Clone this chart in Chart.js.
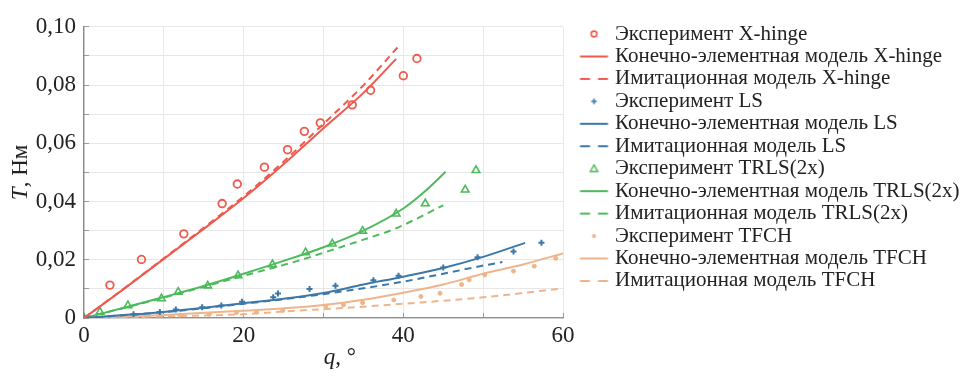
<!DOCTYPE html>
<html><head><meta charset="utf-8">
<style>html,body{margin:0;padding:0;background:#fff;} canvas{display:block;}</style>
<script src="https://cdn.jsdelivr.net/npm/chart.js@4.4.1/dist/chart.umd.min.js"></script>
</head><body>
<canvas id="c" width="965" height="381"></canvas>
<script>
// ---- data (q in degrees, T in N·m) ----
const xhExpQ = [3.25, 7.2, 12.5, 17.3, 19.2, 22.6, 25.5, 27.6, 29.6, 33.6, 35.9, 40.0, 41.7];
const xhExpT = [0.0113, 0.0201, 0.0289, 0.0393, 0.0460, 0.0518, 0.0578, 0.0641, 0.0670, 0.0732, 0.0782, 0.0832, 0.0891];
const xhFemQ = [0, 5, 10, 15, 20, 25, 30, 35, 39.1];
const xhFemT = [0, 0.0100, 0.0203, 0.0306, 0.0412, 0.0528, 0.0652, 0.0773, 0.0890];
const xhSimQ = [0, 5, 10, 15, 20, 25, 30, 35, 39.3];
const xhSimT = [0, 0.0101, 0.0205, 0.0310, 0.0418, 0.0537, 0.0667, 0.0799, 0.0930];

const lsExpQ = [0, 6.2, 9.5, 11.5, 14.8, 17.2, 19.8, 23.7, 24.3, 28.25, 31.5, 36.25, 39.4, 45.0, 49.3, 53.8, 57.3];
const lsExpT = [0, 0.0013, 0.0021, 0.0029, 0.0037, 0.0043, 0.0056, 0.0071, 0.0084, 0.0100, 0.0111, 0.0130, 0.0145, 0.0173, 0.0209, 0.0228, 0.0258];
const lsFemQ = [0, 5, 10, 15, 20, 25, 30, 35, 40, 45, 50, 55.25];
const lsFemT = [0, 0.0010, 0.0021, 0.0035, 0.0051, 0.0066, 0.0086, 0.0115, 0.0142, 0.0172, 0.0210, 0.0258];
const lsSimQ = [0, 10, 20, 27, 35, 40, 45, 50, 52.4];
const lsSimT = [0, 0.0020, 0.0049, 0.0071, 0.0102, 0.0125, 0.0152, 0.0180, 0.0192];

const trExpQ = [0, 2, 5.5, 9.7, 11.8, 15.5, 19.3, 23.6, 27.75, 31.1, 34.9, 39.1, 42.75, 47.75, 49.1];
const trExpT = [0, 0.0021, 0.0043, 0.0067, 0.0089, 0.0111, 0.0146, 0.0184, 0.0225, 0.0255, 0.0299, 0.0358, 0.0393, 0.0440, 0.0507];
const trFemQ = [0, 5, 10, 15, 20, 25, 30, 35, 40, 42.5, 45.3];
const trFemT = [0, 0.0035, 0.0072, 0.0110, 0.0152, 0.0196, 0.0243, 0.0300, 0.0376, 0.0430, 0.0502];
const trSimQ = [0, 10, 20, 27, 31, 35, 39, 45];
const trSimT = [0, 0.0070, 0.0145, 0.0198, 0.0233, 0.0269, 0.0307, 0.0387];

const tfExpQ = [0, 4.7, 7.4, 12, 15.7, 19.1, 21.6, 24.9, 30.3, 32.5, 34.9, 38.8, 42.2, 44.6, 47.3, 48.25, 50.2, 53.8, 56.4, 59.1];
const tfExpT = [0, 0.0005, 0.0008, 0.0010, 0.0013, 0.0019, 0.0021, 0.0026, 0.0041, 0.0045, 0.0052, 0.0062, 0.0074, 0.0085, 0.0115, 0.0131, 0.0148, 0.0161, 0.0178, 0.0205];
const tfFemQ = [0, 10, 20, 27, 30, 35, 40, 45, 50, 55, 60];
const tfFemT = [0, 0.0010, 0.0025, 0.0037, 0.0045, 0.0063, 0.0087, 0.0115, 0.0152, 0.0184, 0.0222];
const tfSimQ = [0, 10, 20, 27, 30, 40, 50, 60];
const tfSimT = [0, 0.0006, 0.0013, 0.0026, 0.0030, 0.0049, 0.0071, 0.0102];

const seriesLabels = [
  'Эксперимент X-hinge', 'Конечно-элементная модель X-hinge', 'Имитационная модель X-hinge',
  'Эксперимент LS', 'Конечно-элементная модель LS', 'Имитационная модель LS',
  'Эксперимент TRLS(2x)', 'Конечно-элементная модель TRLS(2x)', 'Имитационная модель TRLS(2x)',
  'Эксперимент TFCH', 'Конечно-элементная модель TFCH', 'Имитационная модель TFCH'
];
const xTickValues = [0, 20, 40, 60];
const xTickLabels = ['0', '20', '40', '60'];
const yTickValues = [0, 0.02, 0.04, 0.06, 0.08, 0.10];
const yTickLabels = ['0', '0,02', '0,04', '0,06', '0,08', '0,10'];
const xTitle = ['q', ', °'];
const yTitle = ['T', ', Нм'];

// ---- styling ----
const RED = '#ef5a4e', BLUE = '#3b78a8', GREEN = '#4dba5b', ORANGE = '#efb48c';
const FONT = '"Liberation Serif", "Times New Roman", serif';
const TXT = '#222';
const DASH = [7, 5];

const pts = (q, t) => q.map((x, i) => ({x, y: t[i]}));

function expSet(label, q, t, color, style, r, bw, fill) {
  return {label, data: pts(q, t), showLine: false, pointStyle: style, pointRadius: r,
    pointHoverRadius: r, borderColor: color, backgroundColor: fill ? color : 'rgba(0,0,0,0)',
    pointBorderWidth: bw, borderWidth: bw};
}
function lineSet(label, q, t, color, dashed) {
  return {label, data: pts(q, t), showLine: true, pointRadius: 0, borderColor: color,
    backgroundColor: color, borderWidth: 2, borderDash: dashed ? DASH : [],
    cubicInterpolationMode: 'monotone', fill: false};
}

const datasets = [
  expSet(seriesLabels[0], xhExpQ, xhExpT, RED, 'circle', 3.8, 1.8, false),
  lineSet(seriesLabels[1], xhFemQ, xhFemT, RED, false),
  lineSet(seriesLabels[2], xhSimQ, xhSimT, RED, true),
  expSet(seriesLabels[3], lsExpQ, lsExpT, BLUE, 'cross', 3, 2, false),
  lineSet(seriesLabels[4], lsFemQ, lsFemT, BLUE, false),
  lineSet(seriesLabels[5], lsSimQ, lsSimT, BLUE, true),
  expSet(seriesLabels[6], trExpQ, trExpT, GREEN, 'triangle', 4.4, 1.6, false),
  lineSet(seriesLabels[7], trFemQ, trFemT, GREEN, false),
  lineSet(seriesLabels[8], trSimQ, trSimT, GREEN, true),
  expSet(seriesLabels[9], tfExpQ, tfExpT, ORANGE, 'circle', 2, 1, true),
  lineSet(seriesLabels[10], tfFemQ, tfFemT, ORANGE, false),
  lineSet(seriesLabels[11], tfSimQ, tfSimT, ORANGE, true)
];

// ---- legend geometry ----
const PLOT_RIGHT = 563;            // pixel where the plot area ends
const LEG_FONT = 21, LEG_PAD = 1.45, LEG_BOX = 40.05;
const MARK_X = 594;                // where legend markers are centred
const boxCentre = PLOT_RIGHT + LEG_PAD + LEG_BOX / 2;
const OFF = MARK_X - boxCentre;
const ICON_H = 16, ICY = 8;
const ICON_W = Math.ceil(2 * (Math.abs(OFF) + 17));
const ICX = ICON_W / 2 + OFF;

function icon(kind, color) {
  const c = document.createElement('canvas');
  c.width = ICON_W; c.height = ICON_H;
  const g = c.getContext('2d');
  g.strokeStyle = color; g.fillStyle = color; g.lineWidth = 1.6;
  if (kind === 'solid' || kind === 'dash') {
    g.lineWidth = 2;
    g.setLineDash(kind === 'dash' ? [10, 8] : []);
    g.beginPath(); g.moveTo(ICX - 14, ICY); g.lineTo(ICX + 14, ICY); g.stroke();
  } else if (kind === 'circle') {
    g.beginPath(); g.arc(ICX, ICY, 2.9, 0, Math.PI * 2); g.stroke();
  } else if (kind === 'cross') {
    g.lineWidth = 1.7;
    g.beginPath(); g.moveTo(ICX - 2.8, ICY); g.lineTo(ICX + 2.8, ICY);
    g.moveTo(ICX, ICY - 2.8); g.lineTo(ICX, ICY + 2.8); g.stroke();
  } else if (kind === 'triangle') {
    g.lineWidth = 1.5;
    g.beginPath(); g.moveTo(ICX, ICY - 3.8); g.lineTo(ICX + 3.7, ICY + 2.7); g.lineTo(ICX - 3.7, ICY + 2.7);
    g.closePath(); g.stroke();
  } else if (kind === 'dot') {
    g.beginPath(); g.arc(ICX, ICY, 2, 0, Math.PI * 2); g.fill();
  }
  return c;
}
const iconKinds = ['circle', 'solid', 'dash', 'cross', 'solid', 'dash', 'triangle', 'solid', 'dash', 'dot', 'solid', 'dash'];
const iconColors = [RED, RED, RED, BLUE, BLUE, BLUE, GREEN, GREEN, GREEN, ORANGE, ORANGE, ORANGE];
const icons = iconKinds.map((k, i) => icon(k, iconColors[i]));
const LEG_W = 965 - PLOT_RIGHT;

const axisTitles = {
  id: 'axisTitles',
  afterDraw(chart) {
    const {ctx, chartArea: a} = chart;
    ctx.save();
    ctx.fillStyle = TXT;
    ctx.textBaseline = 'alphabetic';
    ctx.textAlign = 'left';
    const it = 'italic 23px ' + FONT, up = '23px ' + FONT;
    // x title
    ctx.font = it; const w1 = ctx.measureText(xTitle[0]).width;
    ctx.font = up; const w2 = ctx.measureText(xTitle[1]).width;
    const cx = a.left + (a.right - a.left) * 0.534;
    let x0 = cx - (w1 + w2) / 2;
    const by = a.bottom + 46;
    ctx.font = it; ctx.fillText(xTitle[0], x0, by);
    ctx.font = up; ctx.fillText(xTitle[1], x0 + w1, by);
    // y title
    ctx.translate(a.left - 57.5, (a.top + a.bottom) / 2);
    ctx.rotate(-Math.PI / 2);
    ctx.font = it; const v1 = ctx.measureText(yTitle[0]).width;
    ctx.font = up; const v2 = ctx.measureText(yTitle[1]).width;
    x0 = -(v1 + v2) / 2;
    ctx.font = it; ctx.fillText(yTitle[0], x0, 0);
    ctx.font = up; ctx.fillText(yTitle[1], x0 + v1, 0);
    ctx.restore();
  }
};

const tickFont = {family: FONT, size: 23};
new Chart(document.getElementById('c'), {
  type: 'scatter',
  data: {datasets},
  plugins: [axisTitles],
  options: {
    responsive: false, animation: false, devicePixelRatio: 1,
    layout: {padding: {left: 0, top: 16, bottom: 0, right: 0}},
    plugins: {
      tooltip: {enabled: false},
      legend: {
        position: 'right', align: 'start', maxWidth: LEG_W,
        title: {display: true, text: '', font: {size: 1, lineHeight: 1}, padding: {top: 0, bottom: 5.05}},
        labels: {
          usePointStyle: true, pointStyleWidth: LEG_BOX, padding: LEG_PAD,
          font: {family: FONT, size: LEG_FONT}, color: TXT,
          generateLabels: (chart) => chart.data.datasets.map((ds, i) => ({
            text: ds.label, pointStyle: icons[i], fillStyle: 'rgba(0,0,0,0)',
            strokeStyle: 'rgba(0,0,0,0)', lineWidth: 0, hidden: false, datasetIndex: i, fontColor: TXT
          }))
        }
      }
    },
    scales: {
      x: {
        type: 'linear', min: 0, max: 60,
        afterFit: (s) => { s.height = 63; },
        ticks: {stepSize: 10, autoSkip: false, maxRotation: 0, font: tickFont, color: TXT, padding: 8.7,
          callback: (v) => { const i = xTickValues.findIndex(t => Math.abs(t - v) < 1e-9); return i >= 0 ? xTickLabels[i] : ''; }},
        grid: {color: '#e7e7e7', lineWidth: 1, tickColor: '#9a9a9a', tickLength: -5, drawTicks: true},
        border: {color: '#909090', width: 1.3}
      },
      y: {
        type: 'linear', min: 0, max: 0.1,
        afterFit: (s) => { s.width = 84; },
        ticks: {stepSize: 0.01, autoSkip: false, font: tickFont, color: TXT, padding: 13,
          callback: (v) => { const i = yTickValues.findIndex(t => Math.abs(t - v) < 1e-9); return i >= 0 ? yTickLabels[i] : ''; }},
        grid: {color: '#e7e7e7', lineWidth: 1, tickColor: '#9a9a9a', tickLength: -5, drawTicks: true},
        border: {color: '#8a8a8a', width: 1.3}
      }
    }
  }
});
</script>
</body></html>
